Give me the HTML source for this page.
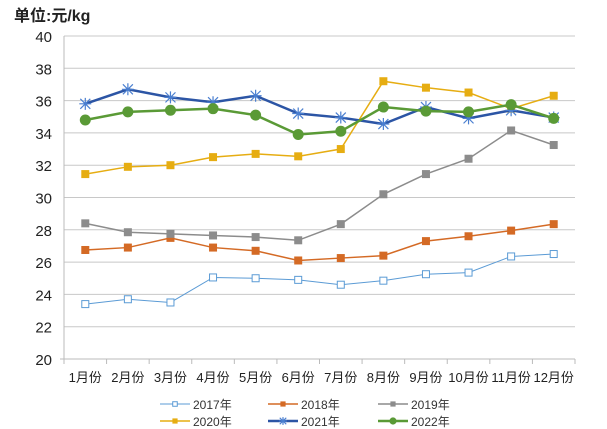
<!DOCTYPE html>
<html><head><meta charset="utf-8"><style>body{margin:0;background:#fff}svg{display:block}</style></head>
<body>
<svg width="607" height="429" xmlns="http://www.w3.org/2000/svg" font-family="Liberation Sans, Noto Sans CJK SC, sans-serif">
<text x="14" y="21" font-size="16" font-weight="bold" fill="#222">单位:元/kg</text>
<g id="grid" stroke="#c8c8c8" stroke-width="1"></g>
<g id="ax"></g>
<g id="series"></g>
<g id="legend" font-size="12" fill="#333"></g>
<script>
const NS="http://www.w3.org/2000/svg";
function el(p,t,a,txt){const e=document.createElementNS(NS,t);for(const k in a)e.setAttribute(k,a[k]);if(txt!==undefined)e.textContent=txt;p.appendChild(e);return e;}
const L=64,R=575,cw=(R-L)/12;
const y=v=>359-(v-20)*16.15, x=i=>L+cw*(i+0.5);
const g=document.getElementById('grid'),ax=document.getElementById('ax');
for(let v=22;v<=40;v+=2)el(g,'line',{x1:L,x2:R,y1:y(v),y2:y(v)});
for(let v=20;v<=40;v+=2)el(ax,'text',{x:52,y:y(v)+6,'font-size':15,'text-anchor':'end',fill:'#222'},v);
el(ax,'line',{x1:L,x2:L,y1:y(40),y2:359,stroke:'#bbb'});
el(ax,'line',{x1:L-4,x2:R,y1:359,y2:359,stroke:'#bbb'});
for(let i=0;i<=12;i++)el(ax,'line',{x1:L+cw*i,x2:L+cw*i,y1:359,y2:364,stroke:'#bbb'});
for(let i=0;i<12;i++)el(ax,'text',{x:x(i),y:382,'font-size':13,'text-anchor':'middle',fill:'#222'},(i+1)+'月份');
const D=[
['2017年','#5b9bd5',1,'osq',[23.4,23.7,23.5,25.05,25.0,24.9,24.6,24.85,25.25,25.35,26.35,26.5]],
['2018年','#d46a25',1.5,'sq',[26.75,26.9,27.5,26.9,26.7,26.1,26.25,26.4,27.3,27.6,27.95,28.35]],
['2019年','#8c8c8c',1.5,'sq',[28.4,27.85,27.75,27.65,27.55,27.35,28.35,30.2,31.45,32.4,34.15,33.25]],
['2020年','#e6ad12',1.5,'sq',[31.45,31.9,32.0,32.5,32.7,32.55,33.0,37.2,36.8,36.5,35.5,36.3]],
['2021年','#2c55a5',2.5,'star',[35.8,36.7,36.2,35.9,36.3,35.2,34.95,34.55,35.6,34.9,35.4,34.95]],
['2022年','#5a9a36',2.5,'dot',[34.8,35.3,35.4,35.5,35.1,33.9,34.1,35.6,35.35,35.3,35.75,34.9]]];
const s=document.getElementById('series');
function mk(p,t,cx,cy,c,sc){sc=sc||1;
 if(t==='osq')el(p,'rect',{x:cx-3.5*sc,y:cy-3.5*sc,width:7*sc,height:7*sc,fill:'#fff',stroke:c,'stroke-width':1});
 else if(t==='sq')el(p,'rect',{x:cx-4*sc,y:cy-4*sc,width:8*sc,height:8*sc,fill:c});
 else if(t==='dot')el(p,'circle',{cx:cx,cy:cy,r:5.5*sc,fill:c});
 else{const r=6*sc,q=5*sc;const d=`M${cx-r} ${cy}H${cx+r}M${cx} ${cy-r}V${cy+r}M${cx-q} ${cy-q}L${cx+q} ${cy+q}M${cx-q} ${cy+q}L${cx+q} ${cy-q}`;el(p,'path',{d:d,stroke:'#4a7fd0','stroke-width':1.2,fill:'none'});}
}
D.forEach(([n,c,w,t,v])=>{
 el(s,'polyline',{points:v.map((a,i)=>x(i)+','+y(a)).join(' '),fill:'none',stroke:c,'stroke-width':w});
 v.forEach((a,i)=>mk(s,t,x(i),y(a),c));
});
const lg=document.getElementById('legend');
const pos=[[160,404],[268,404],[378,404],[160,421],[268,421],[378,421]];
D.forEach(([n,c,w,t],k)=>{const [lx,ly]=pos[k];
 el(lg,'line',{x1:lx,x2:lx+30,y1:ly,y2:ly,stroke:c,'stroke-width':Math.min(w,2.5)});
 mk(lg,t,lx+15,ly,c,0.65);
 el(lg,'text',{x:lx+33,y:ly+5},n);
});
</script>
</svg>
</body></html>
